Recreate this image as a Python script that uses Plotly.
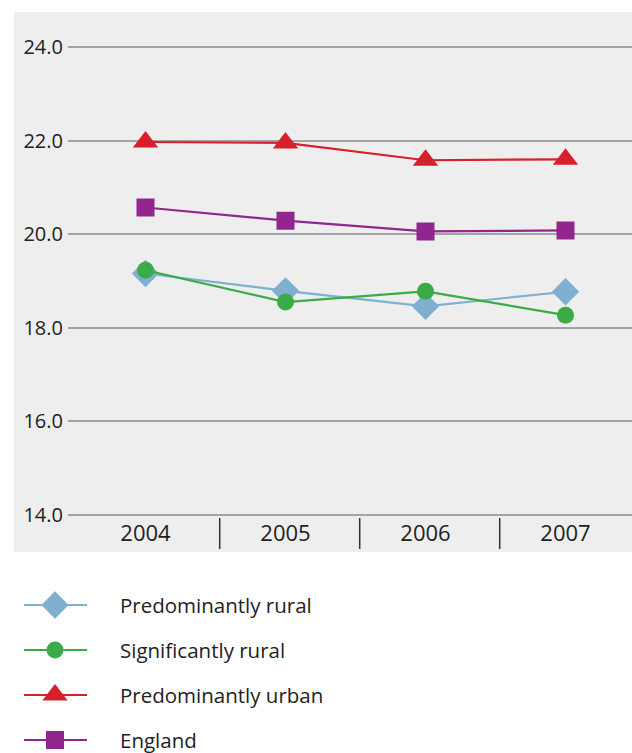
import plotly.graph_objects as go

years = ["2004", "2005", "2006", "2007"]
predominantly_rural = [19.16, 18.79, 18.46, 18.77]
significantly_rural = [19.23, 18.55, 18.78, 18.27]
predominantly_urban = [21.97, 21.95, 21.58, 21.60]
england = [20.57, 20.29, 20.06, 20.08]
y_ticks = [14.0, 16.0, 18.0, 20.0, 22.0, 24.0]

series = [
    ("Predominantly rural", predominantly_rural, "#7fb0d0", "diamond", 21),
    ("Significantly rural", significantly_rural, "#3aab47", "circle", 17),
    ("Predominantly urban", predominantly_urban, "#d7202b", "triangle-up", 22),
    ("England", england, "#91268e", "square", 18),
]

W, H = 632, 753
FONT = "Open Sans"
TXT = "#222222"
GRID = "#a3a3a3"
xs = list(range(len(years)))

fig = go.Figure()

for name, vals, col, sym, sz in series:
    fig.add_trace(go.Scatter(
        x=xs, y=vals, mode="lines+markers", name=name,
        line=dict(color=col, width=2.2),
        marker=dict(symbol=sym, size=sz, color=col, line=dict(width=0)),
        showlegend=False, xaxis="x", yaxis="y",
    ))

# custom legend drawn on pixel-like overlay axes
leg_rows = [605, 650, 695, 740]
for (name, vals, col, sym, sz), ry in zip(series, leg_rows):
    fig.add_trace(go.Scatter(
        x=[24, 87], y=[ry, ry], mode="lines", line=dict(color=col, width=2.2),
        showlegend=False, hoverinfo="skip", xaxis="x2", yaxis="y2"))
    fig.add_trace(go.Scatter(
        x=[55], y=[ry], mode="markers",
        marker=dict(symbol=sym, size=sz, color=col, line=dict(width=0)),
        showlegend=False, hoverinfo="skip", xaxis="x2", yaxis="y2"))
    fig.add_annotation(x=118, y=ry, xref="x2", yref="y2", text=name,
                       showarrow=False, xanchor="left", yanchor="middle",
                       font=dict(family=FONT, size=20.5, color=TXT))

x_left = (68 - 145.5) / 140
x_right = (632 - 145.5) / 140
px_per_unit = (515 - 47) / 10.0
pad = 0.1
y_top_px = 47 - pad * px_per_unit
y_bot_px = 515 + pad * px_per_unit

shapes = [
    dict(type="rect", xref="paper", yref="paper",
         x0=14 / W, x1=1, y0=(H - 552) / H, y1=(H - 12) / H,
         fillcolor="#eeeeee", line=dict(width=0), layer="below"),
]
for i in range(len(years) - 1):
    shapes.append(dict(type="line", xref="x", yref="y2",
                       x0=i + 0.53, x1=i + 0.53, y0=518, y1=549,
                       line=dict(color="#333333", width=1.5)))

fig.update_layout(
    width=W, height=H,
    margin=dict(l=0, r=0, t=0, b=0, autoexpand=False),
    paper_bgcolor="white",
    plot_bgcolor="rgba(0,0,0,0)",
    font=dict(family=FONT, size=20, color=TXT),
    shapes=shapes,
    xaxis=dict(domain=[68 / W, 1], range=[x_left, x_right],
               tickvals=xs, ticktext=years, showgrid=False, zeroline=False,
               showline=False, ticks="", anchor="free",
               position=(H - 515) / H, automargin=False,
               ticklabelstandoff=3,
               tickfont=dict(family=FONT, size=22, color=TXT)),
    yaxis=dict(domain=[(H - y_bot_px) / H, (H - y_top_px) / H],
               range=[14 - pad, 24 + pad],
               tickvals=y_ticks, tickformat=".1f", showgrid=True,
               gridcolor=GRID, gridwidth=1.6, zeroline=False,
               showline=False, ticks="", anchor="x", ticklabelstandoff=4,
               automargin=False,
               tickfont=dict(family=FONT, size=20, color=TXT)),
    xaxis2=dict(domain=[0, 1], range=[0, W], visible=False, anchor="y2",
                fixedrange=True, automargin=False),
    yaxis2=dict(domain=[0, 1], range=[H, 0], visible=False, anchor="x2",
                fixedrange=True, automargin=False),
    showlegend=False,
)

fig.write_html("out.html")
